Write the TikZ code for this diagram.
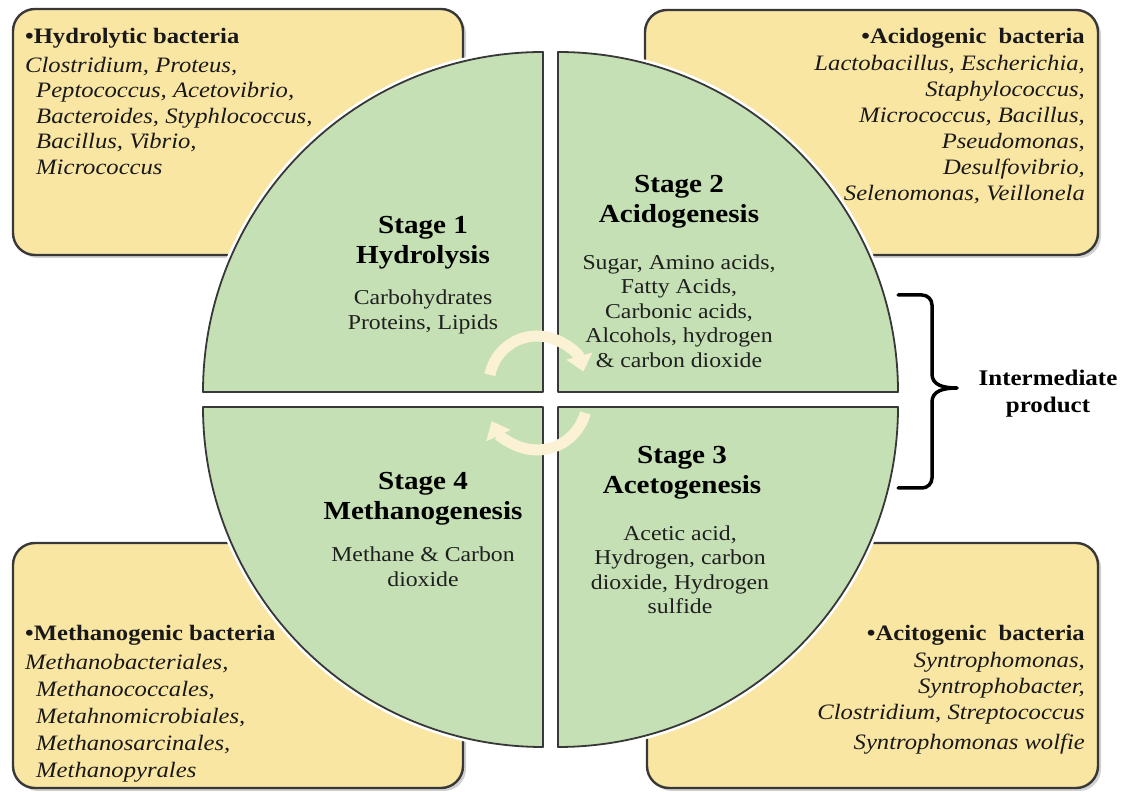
\documentclass[tikz,border=0pt]{standalone}
\usepackage{fontspec}
\setmainfont[FakeStretch=1.12]{Liberation Serif}
\usetikzlibrary{arrows.meta}
\definecolor{qgreen}{HTML}{C5E0B4}
\definecolor{byellow}{HTML}{FAE6A3}
\definecolor{edge}{HTML}{383838}
\definecolor{cream}{HTML}{FBF2D5}
\begin{document}
\begin{tikzpicture}[x=1pt,y=1pt,
  box/.style={fill=byellow, draw=edge, line width=2.4pt, rounded corners=22pt},
  boxshadow/.style={fill=black!18, rounded corners=22pt},
  quad/.style={fill=qgreen, draw=edge, line width=1.8pt, line join=round},
  halo/.style={draw=white, line width=7pt, line join=round},
  head/.style={font=\fontsize{26}{30}\selectfont\bfseries, align=center, inner sep=0pt},
  body/.style={font=\fontsize{21.2}{24.5}\selectfont, align=center, inner sep=0pt, text=black!88},
  bact/.style={inner sep=0pt, text=black!90},
  cyc/.style={draw=cream, line width=11pt, -{Triangle[width=26pt,length=16pt]}},
  brace/.style={draw=black, line width=3.5pt, line join=round, line cap=round},
]
\useasboundingbox (0,0) rectangle (1122,792);
\fill[white] (0,0) rectangle (1122,792);

% yellow boxes
\fill[boxshadow] (16,534) rectangle (466,780);
\fill[boxshadow] (648,534) rectangle (1101,779);
\fill[boxshadow] (16,1) rectangle (466,246);
\fill[boxshadow] (650,1) rectangle (1101,246);
\draw[box] (13,537) rectangle (463,783);
\draw[box] (645,537) rectangle (1098,782);
\draw[box] (13,4) rectangle (463,249);
\draw[box] (647,4) rectangle (1098,249);

% bacteria texts
\node[bact, anchor=north west, align=left, font=\fontsize{22}{25.5}\selectfont] (b1) at (25,764)
  {\textbf{•Hydrolytic bacteria}\\[3.5pt]
   \textit{Clostridium, Proteus,}\\
   \hspace*{11pt}\textit{Peptococcus, Acetovibrio,}\\
   \hspace*{11pt}\textit{Bacteroides, Styphlococcus,}\\
   \hspace*{11pt}\textit{Bacillus, Vibrio,}\\
   \hspace*{11pt}\textit{Micrococcus}};
\node[bact, anchor=north east, align=right, font=\fontsize{22}{26}\selectfont] (b2) at (1085,764)
  {\textbf{•Acidogenic\hspace{6pt} bacteria}\\[1pt]
   \textit{Lactobacillus, Escherichia,}\\
   \textit{Staphylococcus,}\\
   \textit{Micrococcus, Bacillus,}\\
   \textit{Pseudomonas,}\\
   \textit{Desulfovibrio,}\\
   \textit{Selenomonas, Veillonela}};
\node[bact, anchor=north east, align=right, font=\fontsize{22}{26}\selectfont] (b3) at (1085,167)
  {\textbf{•Acitogenic\hspace{6pt} bacteria}\\[1pt]
   \textit{Syntrophomonas,}\\
   \textit{Syntrophobacter,}\\
   \textit{Clostridium, Streptococcus}\\[4pt]
   \textit{Syntrophomonas wolfie}};
\node[bact, anchor=north west, align=left, font=\fontsize{22}{27}\selectfont] (b4) at (25,167)
  {\textbf{•Methanogenic bacteria}\\[2pt]
   \textit{Methanobacteriales,}\\
   \hspace*{11pt}\textit{Methanococcales,}\\
   \hspace*{11pt}\textit{Metahnomicrobiales,}\\
   \hspace*{11pt}\textit{Methanosarcinales,}\\
   \hspace*{11pt}\textit{Methanopyrales}};

% quadrants
\path[halo] (543,400) -- (203,400) arc[start angle=180,end angle=90,radius=340] -- cycle;
\path[halo] (558,400) -- (558,740) arc[start angle=90,end angle=0,radius=340] -- cycle;
\path[halo] (543,385) -- (203,385) arc[start angle=180,end angle=270,radius=340] -- cycle;
\path[halo] (558,385) -- (898,385) arc[start angle=0,end angle=-90,radius=340] -- cycle;
\path[quad] (543,400) -- (203,400) arc[start angle=180,end angle=90,radius=340] -- cycle;
\path[quad] (558,400) -- (558,740) arc[start angle=90,end angle=0,radius=340] -- cycle;
\path[quad] (543,385) -- (203,385) arc[start angle=180,end angle=270,radius=340] -- cycle;
\path[quad] (558,385) -- (898,385) arc[start angle=0,end angle=-90,radius=340] -- cycle;

% stage texts
\node[head] (s1h) at (423,549) {Stage 1\\Hydrolysis};
\node[body] (s1c) at (423,480) {Carbohydrates\\Proteins, Lipids};
\node[head] (s2h) at (679,590) {Stage 2\\Acidogenesis};
\node[body] (s2c) at (679,481) {Sugar, Amino acids,\\Fatty Acids,\\Carbonic acids,\\Alcohols, hydrogen\\\& carbon dioxide};
\node[head] (s3h) at (682,319) {Stage 3\\Acetogenesis};
\node[body] (s3c) at (680,222) {Acetic acid,\\Hydrogen, carbon\\dioxide, Hydrogen\\sulfide};
\node[head] (s4h) at (423,293) {Stage 4\\Methanogenesis};
\node[body] (s4c) at (423,225) {Methane \& Carbon\\dioxide};

% cycle arrows
\draw[cyc] ([shift={(169:48)}]537,408) arc[start angle=169,end angle=15,radius=48];
\draw[cyc] ([shift={(-15:50)}]537,392) arc[start angle=-15,end angle=-155,radius=50];

% brace and label
\draw[brace] (898,497) -- (922,497) arc[start angle=90,end angle=0,radius=10] -- (932,418)
  .. controls (932,407) and (943,404) .. (957,404)
  .. controls (943,404) and (932,401) .. (932,390)
  -- (932,314) arc[start angle=0,end angle=-90,radius=10] -- (898,304);
\node[font=\fontsize{22.3}{27}\selectfont\bfseries, align=center, inner sep=2pt] (inter) at (1048,398) {Intermediate\\product};
\end{tikzpicture}
\end{document}
